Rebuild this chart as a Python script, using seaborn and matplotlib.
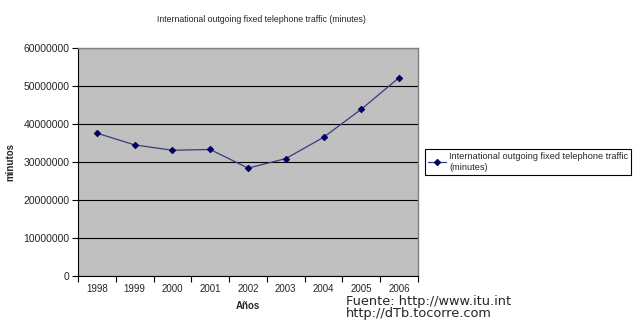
import matplotlib
matplotlib.use("Agg")
import matplotlib.pyplot as plt
import seaborn as sns
import pandas as pd
from matplotlib.ticker import FixedLocator, NullFormatter

years = ["1998", "1999", "2000", "2001", "2002", "2003", "2004", "2005", "2006"]
minutes = [37600000, 34500000, 33100000, 33300000, 28400000, 30900000, 36500000, 43900000, 52200000]
series_name = "International outgoing fixed telephone traffic\n(minutes)"
yticks = [0, 10000000, 20000000, 30000000, 40000000, 50000000, 60000000]

sns.set_style("white")
plt.rcParams['font.family'] = ['Liberation Sans', 'DejaVu Sans']

df = pd.DataFrame({"year": years, "minutes": minutes})

fig = plt.figure(figsize=(6.40, 3.27), dpi=100)
ax = fig.add_axes([0.122, 0.156, 0.531, 0.697])
ax.set_facecolor("#c0c0c0")

sns.lineplot(data=df, x="year", y="minutes", ax=ax, color="#3a3a80", linewidth=0.9,
             marker="D", markersize=3.2, markerfacecolor="#000060", markeredgecolor="#000060",
             label=series_name)

n = len(years)
ax.set_xlim(-0.5, n - 0.5)
ax.set_ylim(0, 60000000)
ax.set_yticks(yticks)
ax.set_yticklabels([str(v) for v in yticks])
ax.yaxis.grid(True, color="#000000", linewidth=0.8)
ax.set_axisbelow(True)

ax.xaxis.set_major_locator(FixedLocator([i - 0.5 for i in range(n + 1)]))
ax.xaxis.set_major_formatter(NullFormatter())
ax.xaxis.set_minor_locator(FixedLocator(list(range(n))))
ax.set_xticklabels(years, minor=True)
ax.tick_params(axis="x", which="major", direction="out", length=4, width=0.8, color="#000000", bottom=True)
ax.tick_params(axis="x", which="minor", length=0, labelsize=7, pad=6)
ax.tick_params(axis="y", direction="out", length=4, width=0.8, color="#000000", left=True, labelsize=7.5, pad=2)

for side in ["top", "right"]:
    ax.spines[side].set_color("#808080")
    ax.spines[side].set_linewidth(1.0)
for side in ["left", "bottom"]:
    ax.spines[side].set_color("#000000")
    ax.spines[side].set_linewidth(0.8)

ax.set_xlabel("Años", fontsize=7, fontweight="bold", labelpad=5)
ax.set_ylabel("minutos", fontsize=7, fontweight="bold", labelpad=6)

fig.text(0.408, 0.94, "International outgoing fixed telephone traffic (minutes)",
         ha="center", va="center", fontsize=6.3)

leg = ax.legend(loc="center left", bbox_to_anchor=(1.02, 0.5), fontsize=6.6,
                frameon=True, fancybox=False, framealpha=1, edgecolor="#000000",
                handlelength=2.0, borderpad=0.35, handletextpad=0.3, borderaxespad=0)
leg.get_frame().set_linewidth(0.8)

fig.text(0.54, 0.060, "Fuente: http://www.itu.int\nhttp://dTb.tocorre.com",
         ha="left", va="center", fontsize=9.3, family="DejaVu Sans", linespacing=0.95)

fig.savefig("out.png", dpi=100)
